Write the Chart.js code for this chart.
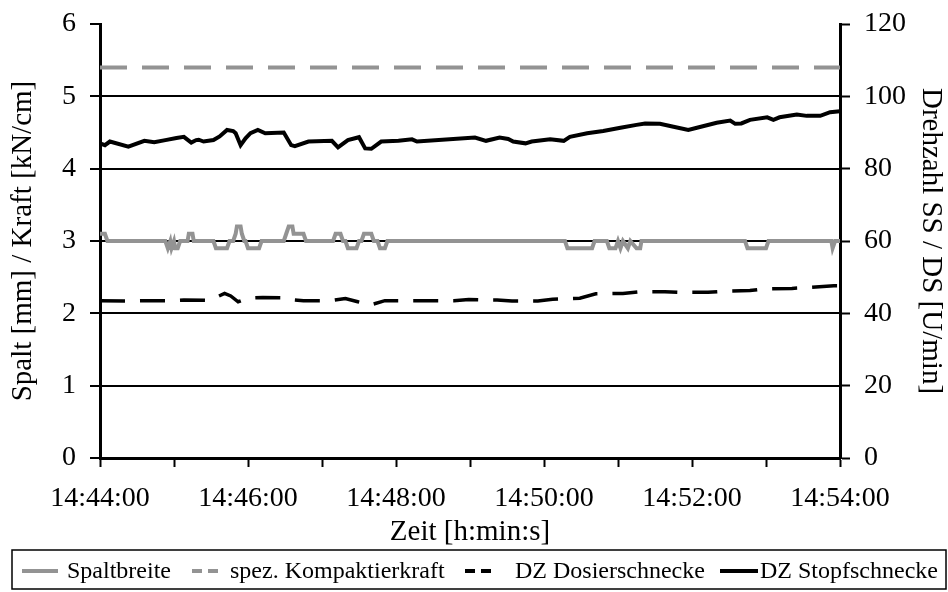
<!DOCTYPE html>
<html>
<head>
<meta charset="utf-8">
<script src="https://cdn.jsdelivr.net/npm/chart.js@4.4.0/dist/chart.umd.min.js"></script>
<style>
  body { margin: 0; background: #fff; }
  #wrap { width: 948px; height: 592px; }
</style>
</head>
<body>
<div id="wrap"><canvas id="chart" width="948" height="592"></canvas></div>
<script>
// time in seconds after 14:44:00
const xTickLabels = ['14:44:00', '14:46:00', '14:48:00', '14:50:00', '14:52:00', '14:54:00'];

// Spaltbreite [mm] (left axis)
const spaltTimes = [0, 4, 6, 53, 55, 57, 58, 60, 61, 63, 65, 71, 72, 75, 76, 92, 94, 103, 105, 108, 110, 111, 114, 115, 117, 118, 120, 129, 131,
  149, 151, 153, 156, 157, 165, 167, 189, 191, 195, 197, 199, 201, 208, 210, 212, 214, 220, 222, 225, 227, 231, 233,
  377, 379, 399, 401, 411, 413, 418, 420, 422, 424, 428, 430, 435, 438, 439, 523, 525, 540, 542, 593, 594, 596, 600];
const spaltValues = [3.1, 3.1, 3.0, 3.0, 2.9, 3.0, 2.9, 3.0, 2.9, 2.9, 3.0, 3.0, 3.1, 3.1, 3.0, 3.0, 2.9, 2.9, 3.0, 3.0, 3.1, 3.2, 3.2, 3.1, 3.0, 3.0, 2.9, 2.9, 3.0,
  3.0, 3.1, 3.2, 3.2, 3.1, 3.1, 3.0, 3.0, 3.1, 3.1, 3.0, 3.0, 2.9, 2.9, 3.0, 3.0, 3.1, 3.1, 3.0, 3.0, 2.9, 2.9, 3.0,
  3.0, 2.9, 2.9, 3.0, 3.0, 2.9, 2.9, 3.0, 2.9, 3.0, 2.9, 3.0, 2.9, 2.9, 3.0, 3.0, 2.9, 2.9, 3.0, 3.0, 2.9, 3.0, 3.0];

// spez. Kompaktierkraft [kN/cm] (left axis)
const kraftTimes = [0, 600];
const kraftValues = [5.4, 5.4];

// DZ Dosierschnecke [U/min] (right axis)
const dosierTimes = [0, 22, 34, 55, 68, 89, 101, 106, 112, 120, 132, 150, 153, 165, 187, 199, 209, 219, 231, 253, 265, 287, 299,
  310, 322, 334, 355, 367, 389, 402, 424, 438, 458, 471, 493, 505, 527, 539, 561, 573, 595, 600];
const dosierValues = [43.5, 43.4, 43.5, 43.5, 43.7, 43.6, 45.5, 44.8, 43.2, 44.2, 44.4, 44.3, 43.8, 43.5, 43.5, 44.1, 43.2, 42.3, 43.5, 43.5, 43.5, 43.5, 43.8,
  43.7, 43.7, 43.4, 43.4, 43.9, 44.2, 45.4, 45.5, 46.0, 46.0, 45.8, 45.8, 46.1, 46.3, 46.8, 46.9, 47.1, 47.6, 47.6];

// DZ Stopfschnecke [U/min] (right axis)
const stopfTimes = [0, 4, 8, 23, 36, 44, 53, 62, 68, 74, 78, 80, 84, 92, 97, 103, 108, 110, 114, 118, 122, 128, 134, 149, 155, 158,
  169, 188, 193, 201, 210, 215, 220, 228, 242, 253, 257, 304, 313, 324, 331, 335, 345, 350, 365, 376, 381, 395, 408, 422,
  435, 442, 454, 465, 477, 484, 500, 511, 515, 520, 527, 541, 546, 551, 565, 573, 584, 592, 600];
const stopfValues = [87.0, 86.5, 87.5, 86.1, 87.7, 87.3, 87.9, 88.5, 88.8, 87.2, 87.9, 88.0, 87.5, 87.9, 88.9, 90.7, 90.4, 89.8, 86.5, 88.4, 89.8, 90.7, 89.8, 90.0, 86.5, 86.2,
  87.5, 87.7, 85.9, 87.9, 88.7, 85.6, 85.5, 87.5, 87.7, 88.1, 87.5, 88.6, 87.7, 88.6, 88.2, 87.5, 87.0, 87.5, 88.1, 87.7, 88.8, 89.8, 90.4, 91.3,
  92.1, 92.5, 92.4, 91.6, 90.7, 91.3, 92.7, 93.3, 92.4, 92.5, 93.5, 94.2, 93.5, 94.2, 95.0, 94.6, 94.6, 95.6, 95.9];

const FONT = "'Liberation Serif', 'Times New Roman', serif";
const GRAY = '#939393';

function pts(times, values) {
  return times.map((t, i) => ({ x: t, y: values[i] }));
}

// keep the plot area fixed: 100..840 x 24..458
function fixWidth(w) {
  return s => { s.width = w; s.paddingTop = 0; s.paddingBottom = 0; };
}

// legend sample/text positions (px)
const legendPos = [
  { x1: 22, x2: 58, tx: 67, dash: [] },
  { x1: 192, x2: 218, tx: 230, dash: [10, 6] },
  { x1: 465, x2: 494, tx: 515, dash: [10, 6] },
  { x1: 720, x2: 758, tx: 760, dash: [] }
];

const boxLegend = {
  id: 'boxLegend',
  afterDraw(chart) {
    const ctx = chart.ctx;
    ctx.save();
    ctx.strokeStyle = '#000';
    ctx.lineWidth = 1.5;
    ctx.strokeRect(12, 550, 934, 39);
    ctx.font = '24px ' + FONT;
    ctx.textBaseline = 'middle';
    ctx.fillStyle = '#000';
    chart.data.datasets.forEach((ds, i) => {
      const p = legendPos[i];
      ctx.beginPath();
      ctx.setLineDash(p.dash);
      ctx.strokeStyle = ds.borderColor;
      ctx.lineWidth = 4;
      ctx.moveTo(p.x1, 571);
      ctx.lineTo(p.x2, 571);
      ctx.stroke();
      ctx.setLineDash([]);
      ctx.fillText(ds.label, p.tx, 572);
    });
    ctx.restore();
  }
};

new Chart(document.getElementById('chart'), {
  type: 'line',
  data: {
    datasets: [
      { label: 'Spaltbreite', data: pts(spaltTimes, spaltValues), yAxisID: 'y', borderColor: GRAY, borderWidth: 4 },
      { label: 'spez. Kompaktierkraft', data: pts(kraftTimes, kraftValues), yAxisID: 'y', borderColor: GRAY, borderWidth: 4, borderDash: [27, 15] },
      { label: 'DZ Dosierschnecke', data: pts(dosierTimes, dosierValues), yAxisID: 'y2', borderColor: '#000', borderWidth: 3.5, borderDash: [25, 15] },
      { label: 'DZ Stopfschnecke', data: pts(stopfTimes, stopfValues), yAxisID: 'y2', borderColor: '#000', borderWidth: 4 }
    ]
  },
  options: {
    responsive: false,
    animation: false,
    devicePixelRatio: 1,
    layout: { padding: { top: 24, bottom: 42, left: 0, right: 0 } },
    elements: { point: { radius: 0 }, line: { tension: 0, borderCapStyle: 'butt' } },
    plugins: { legend: { display: false }, tooltip: { enabled: false } },
    scales: {
      x: {
        type: 'linear', min: 0, max: 600,
        afterFit: s => { s.height = 92; },
        border: { color: '#000', width: 3 },
        grid: { drawOnChartArea: false, tickLength: 9, tickColor: '#000', tickWidth: 2 },
        ticks: {
          stepSize: 60, autoSkip: false, maxRotation: 0, padding: 15,
          color: '#000', font: { family: FONT, size: 28 },
          callback: v => (v % 120 === 0 ? xTickLabels[v / 120] : '')
        },
        title: { display: true, text: 'Zeit [h:min:s]', color: '#000', font: { family: FONT, size: 29 }, padding: { top: 0, bottom: 0 } }
      },
      y: {
        position: 'left', min: 0, max: 6,
        afterFit: fixWidth(100),
        border: { color: '#000', width: 3 },
        grid: {
          color: c => (c.tick.value > 0 && c.tick.value < 6 ? '#000' : 'rgba(0,0,0,0)'),
          lineWidth: 2, tickLength: 10, tickColor: '#000', tickWidth: 2
        },
        ticks: { stepSize: 1, padding: 14, color: '#000', font: { family: FONT, size: 28 } },
        title: { display: true, text: 'Spalt [mm] / Kraft [kN/cm]', color: '#000', font: { family: FONT, size: 29 }, padding: { top: 6, bottom: 0 } }
      },
      y2: {
        position: 'right', min: 0, max: 120,
        afterFit: fixWidth(108),
        border: { color: '#000', width: 3 },
        grid: { drawOnChartArea: false, tickLength: 10, tickColor: '#000', tickWidth: 2 },
        ticks: { stepSize: 20, padding: 14, color: '#000', font: { family: FONT, size: 28 } },
        title: { display: true, text: 'Drehzahl SS / DS [U/min]', color: '#000', font: { family: FONT, size: 29 }, padding: { top: 0, bottom: 0 } }
      }
    }
  },
  plugins: [boxLegend]
});
</script>
</body>
</html>
